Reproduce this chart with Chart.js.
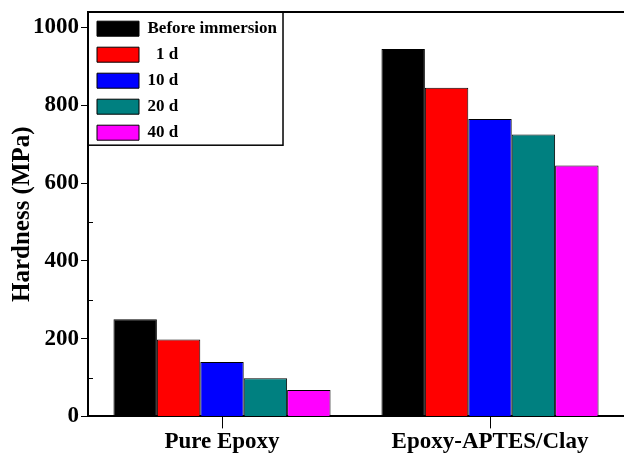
<!DOCTYPE html>
<html lang="en">
<head>
    <meta charset="UTF-8">
    <title>Hardness</title>
    <script src="https://cdn.jsdelivr.net/npm/chart.js"></script>
    <style>
        html, body {margin: 0; padding: 0; background: #fff;}
        #wrap {width: 624px; height: 456px; position: relative;}
    </style>
</head>
<body>
    <div id="wrap">
        <canvas id="hardness_canvas"></canvas>
    </div>
    <script>
        // Data
        const categories = ["Pure Epoxy", "Epoxy-APTES/Clay"];
        const seriesLabels = ["Before immersion", "  1 d", "10 d", "20 d", "40 d"];
        const beforeImmersion = [250, 945];
        const day1 = [198, 845];
        const day10 = [140, 765];
        const day20 = [98, 725];
        const day40 = [68, 645];
        const yTicks = [0, 200, 400, 600, 800, 1000];
        const yMinorTicks = [100, 300, 500, 700, 900];

        const seriesColors = ["#000000", "#ff0000", "#0000ff", "#008080", "#ff00ff"];
        const serif = "'Liberation Serif', 'Times New Roman', serif";

        // top frame line, inward minor ticks and legend frame
        const framePlugin = {
            id: "framePlugin",
            beforeDraw(chart) {
                const {ctx, chartArea: a, scales: {y}} = chart;
                ctx.save();
                ctx.strokeStyle = "#000";
                ctx.lineWidth = 1;
                ctx.beginPath();
                yMinorTicks.forEach((v) => {
                    const py = Math.round(y.getPixelForValue(v)) + 0.5;
                    ctx.moveTo(a.left, py);
                    ctx.lineTo(a.left + 5, py);
                });
                ctx.stroke();

                const boxes = chart.legend.legendHitBoxes || [];
                if (boxes.length) {
                    let right = 0;
                    boxes.forEach((b) => { right = Math.max(right, b.left + b.width); });
                    const last = boxes[boxes.length - 1];
                    const x0 = a.left, y0 = a.top;
                    const x1 = right + 6, y1 = last.top + last.height + 4;
                    ctx.fillStyle = "#fff";
                    ctx.fillRect(x0, y0, x1 - x0, y1 - y0);
                    ctx.lineWidth = 1.5;
                    ctx.strokeRect(x0, y0, x1 - x0, y1 - y0);
                }
                ctx.restore();
            },
            afterDraw(chart) {
                const {ctx, chartArea: a} = chart;
                ctx.save();
                ctx.strokeStyle = "#000";
                ctx.lineWidth = 2;
                ctx.beginPath();
                ctx.moveTo(a.left, a.top);
                ctx.lineTo(a.right, a.top);
                ctx.stroke();
                ctx.restore();
            }
        };

        const seriesValues = [beforeImmersion, day1, day10, day20, day40];

        new Chart(document.getElementById("hardness_canvas"), {
            type: "bar",
            data: {
                labels: categories,
                datasets: seriesValues.map((vals, i) => ({
                    label: seriesLabels[i],
                    data: vals,
                    backgroundColor: seriesColors[i],
                    borderColor: "#000",
                    borderWidth: 1,
                    barPercentage: 1,
                    categoryPercentage: 0.81
                }))
            },
            options: {
                responsive: true,
                maintainAspectRatio: false,
                animation: false,
                layout: {padding: {top: 12, left: 8, right: 0, bottom: 0}},
                plugins: {
                    tooltip: {enabled: false},
                    legend: {
                        position: "chartArea",
                        align: "start",
                        // empty title only pushes the items below the top frame
                        title: {display: true, text: "", padding: {top: 10, bottom: 0}, font: {size: 1}},
                        labels: {
                            boxWidth: 42,
                            boxHeight: 15,
                            padding: 9,
                            color: "#000",
                            font: {family: serif, size: 17, weight: "bold"}
                        }
                    }
                },
                scales: {
                    x: {
                        grid: {display: true, offset: false, drawOnChartArea: false, drawTicks: true, tickLength: 12, color: "#000", lineWidth: 1},
                        border: {display: true, color: "#000", width: 2},
                        ticks: {color: "#000", padding: 0, font: {family: serif, size: 23, weight: "bold"}}
                    },
                    y: {
                        min: 0,
                        max: 1040,
                        afterBuildTicks: (scale) => { scale.ticks = yTicks.map((v) => ({value: v})); },
                        afterFit: (scale) => {
                            scale.width = 80;
                            scale.paddingTop = 0;
                        },
                        grid: {display: true, drawOnChartArea: false, drawTicks: true, tickLength: 7, color: "#000", lineWidth: 1},
                        border: {display: true, color: "#000", width: 2},
                        ticks: {
                            color: "#000",
                            padding: 2,
                            font: {family: serif, size: 23, weight: "bold"},
                            callback: (value) => String(value)
                        },
                        title: {
                            display: true,
                            text: "Hardness (MPa)",
                            color: "#000",
                            padding: {top: 0, bottom: 0},
                            font: {family: serif, size: 25, weight: "bold"}
                        }
                    }
                }
            },
            plugins: [framePlugin]
        });
    </script>
</body>
</html>
